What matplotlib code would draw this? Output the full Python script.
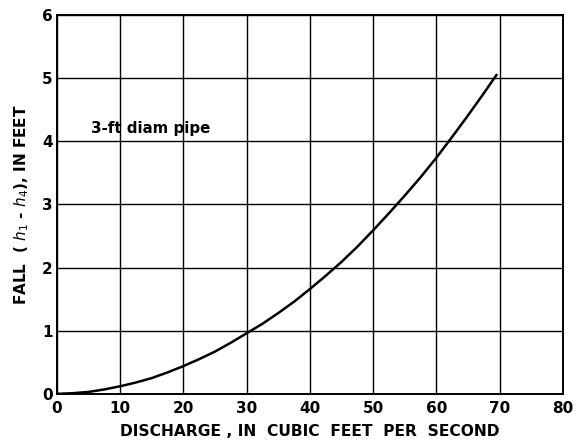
import matplotlib
matplotlib.use("Agg")
import matplotlib.pyplot as plt

# Data
discharge = [0, 2.5, 5, 7.5, 10, 12.5, 15, 17.5, 20, 22.5, 25, 27.5, 30, 32.5, 35,
             37.5, 40, 42.5, 45, 47.5, 50, 52.5, 55, 57.5, 60, 62.5, 65, 67.5, 69.5]
fall = [0, 0.01, 0.03, 0.07, 0.12, 0.18, 0.25, 0.34, 0.44, 0.55, 0.67, 0.81, 0.96, 1.11, 1.28,
        1.46, 1.66, 1.87, 2.09, 2.33, 2.59, 2.86, 3.14, 3.43, 3.74, 4.07, 4.41, 4.76, 5.05]
x_ticks = [0, 10, 20, 30, 40, 50, 60, 70, 80]
y_ticks = [0, 1, 2, 3, 4, 5, 6]

plt.rcParams['font.family'] = ['DejaVu Sans']

fig = plt.figure(figsize=(5.76, 4.45), dpi=100)
ax = fig.add_axes([0.099, 0.115, 0.878, 0.851])

ax.plot(discharge, fall, color='black', lw=1.8, zorder=3, solid_joinstyle='round')
ax.set_xlim(0, 80)
ax.set_ylim(0, 6)
ax.set_xticks(x_ticks)
ax.set_yticks(y_ticks)
ax.grid(True, color='black', lw=1.0)
for s in ax.spines.values():
    s.set_linewidth(1.4)
ax.tick_params(length=0, labelsize=11)
ax.tick_params(axis='x', pad=5)
ax.tick_params(axis='y', pad=3)
for lab in ax.get_xticklabels() + ax.get_yticklabels():
    lab.set_fontweight('bold')

ax.set_xlabel('DISCHARGE , IN  CUBIC  FEET  PER  SECOND', fontsize=11.2, fontweight='bold', labelpad=6)
ax.set_ylabel(r'FALL  ( $h_1$ - $h_4$), IN FEET', fontsize=11, fontweight='bold', labelpad=8)
ax.text(5.4, 4.2, '3-ft diam pipe', fontsize=10.8, fontweight='bold', va='center', ha='left')

fig.savefig('out.png', dpi=100)
